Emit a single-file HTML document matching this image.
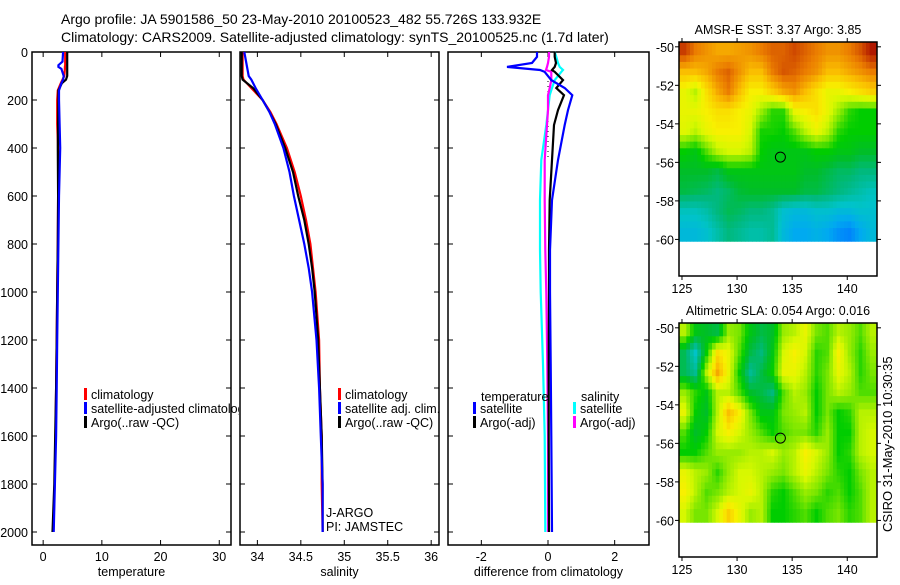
<!DOCTYPE html>
<html><head><meta charset="utf-8">
<style>
html,body{margin:0;padding:0;background:#fff;}
body{width:900px;height:580px;overflow:hidden;font-family:"Liberation Sans",sans-serif;}
svg text{font-family:"Liberation Sans",sans-serif;fill:#000;}
</style></head>
<body>
<svg id="fig" width="900" height="580" viewBox="0 0 900 580" xmlns="http://www.w3.org/2000/svg">
<defs><clipPath id="clipP1"><rect x="32" y="52" width="207" height="493"/></clipPath></defs>
<text x="61" y="24" font-size="14">Argo profile: JA 5901586_50 23-May-2010 20100523_482 55.726S 133.932E</text>
<text x="61" y="42" font-size="14">Climatology: CARS2009. Satellite-adjusted climatology: synTS_20100525.nc (1.7d later)</text>
<text transform="translate(892,532) rotate(-90)" font-size="13">CSIRO 31-May-2010 10:30:35</text>
</svg>
<script>
// ---------- data ----------
const depthTicks=[0,200,400,600,800,1000,1200,1400,1600,1800,2000];
const tempTicks=[0,10,20,30];
const salTicks=["34","34.5","35","35.5","36"];
const diffTicks=[-2,0,2];
const lonTicks=[125,130,135,140];
const latTicks=[-50,-52,-54,-56,-58,-60];

const tDepth=[0,40,55,62,70,100,115,130,160,200,300,400,600,800,1000,1200,1400,1600,1800,2000];
const tClim=[3.75,3.75,3.75,3.7,3.7,3.6,3.3,3.0,2.5,2.4,2.4,2.55,2.55,2.5,2.4,2.3,2.2,2.1,1.95,1.75];
const tSat=[3.4,3.3,2.6,2.6,3.1,3.5,3.4,3.1,2.7,2.7,2.8,2.9,2.7,2.6,2.5,2.4,2.3,2.2,2.0,1.8];
const tArgo=[4.1,4.1,4.1,4.1,4.1,4.1,3.9,3.2,2.6,2.6,2.55,2.5,2.55,2.5,2.4,2.3,2.2,2.05,1.9,1.6];

const sDepth=[0,100,115,150,200,250,300,400,500,600,700,800,900,1000,1200,1400,1600,1800,2000];
const sClim=[33.83,33.83,33.84,33.93,34.06,34.15,34.22,34.34,34.43,34.50,34.56,34.61,34.64,34.67,34.71,34.72,34.74,34.74,34.75];
const sSat=[33.85,33.9,33.93,33.98,34.06,34.14,34.2,34.3,34.37,34.42,34.48,34.54,34.59,34.63,34.68,34.71,34.73,34.75,34.75];
const sArgo=[33.82,33.82,33.83,33.95,34.06,34.14,34.21,34.32,34.41,34.47,34.54,34.59,34.63,34.66,34.70,34.72,34.74,34.75,34.75];

const dDepth=[0,20,46,62,75,83,117,150,180,242,304,450,617,825,1000,1300,1600,2000];
const dTempSat=[-0.33,-0.33,-0.48,-1.23,-0.24,-0.1,0.1,0.5,0.73,0.6,0.5,0.3,0.12,0.06,0.06,0.08,0.1,0.12];
const dTempArgo=[0.2,0.2,0.24,0.2,0.12,0.2,0.45,0.25,0.48,0.3,0.18,0.12,0.05,0.03,0.03,0.02,0.02,0.03];
const dSalSat=[0.2,0.25,0.3,0.35,0.45,0.4,0.2,0.12,0.05,0,-0.05,-0.2,-0.24,-0.24,-0.22,-0.15,-0.1,-0.08];
const dSalArgo=[0.03,0.03,0.0,-0.03,-0.06,0.1,0.1,0.05,0,0,-0.03,-0.1,-0.1,-0.08,-0.05,-0.02,0,0];

const sstGrid=[
[0.95,0.9,0.88,0.86,0.86,0.87,0.88,0.9,0.92,0.92,0.94,0.92,0.9,0.88,0.88,0.9,0.93,0.98],
[0.84,0.84,0.86,0.9,0.92,0.88,0.84,0.84,0.9,0.93,0.92,0.9,0.88,0.84,0.84,0.86,0.88,0.9],
[0.76,0.72,0.8,0.86,0.9,0.84,0.78,0.78,0.82,0.86,0.88,0.84,0.8,0.76,0.76,0.78,0.8,0.82],
[0.76,0.76,0.78,0.8,0.8,0.78,0.76,0.7,0.64,0.64,0.76,0.78,0.8,0.76,0.7,0.64,0.62,0.62],
[0.75,0.72,0.76,0.78,0.78,0.78,0.74,0.63,0.63,0.62,0.66,0.72,0.76,0.72,0.64,0.62,0.62,0.62],
[0.62,0.6,0.66,0.72,0.74,0.74,0.72,0.62,0.6,0.6,0.6,0.6,0.62,0.62,0.6,0.6,0.58,0.58],
[0.58,0.58,0.58,0.56,0.6,0.6,0.6,0.6,0.6,0.6,0.6,0.58,0.58,0.56,0.54,0.54,0.52,0.52],
[0.56,0.55,0.54,0.52,0.54,0.57,0.58,0.58,0.58,0.58,0.58,0.56,0.56,0.54,0.52,0.5,0.48,0.46],
[0.46,0.46,0.48,0.52,0.55,0.54,0.52,0.52,0.5,0.44,0.42,0.42,0.44,0.44,0.42,0.42,0.44,0.44],
[0.42,0.42,0.44,0.48,0.52,0.5,0.48,0.48,0.5,0.42,0.38,0.38,0.4,0.38,0.34,0.32,0.38,0.42]];
const slaGrid=[
[0.72,0.6,0.58,0.56,0.7,0.68,0.6,0.56,0.58,0.7,0.72,0.76,0.68,0.66,0.72,0.7,0.66,0.72],
[0.55,0.45,0.62,0.8,0.76,0.66,0.56,0.52,0.6,0.74,0.78,0.74,0.64,0.66,0.78,0.7,0.64,0.7],
[0.55,0.5,0.72,0.86,0.76,0.62,0.5,0.56,0.62,0.76,0.76,0.72,0.64,0.68,0.76,0.72,0.64,0.68],
[0.7,0.64,0.6,0.72,0.72,0.66,0.58,0.56,0.52,0.66,0.72,0.7,0.62,0.68,0.72,0.7,0.66,0.66],
[0.76,0.62,0.58,0.72,0.84,0.78,0.68,0.6,0.6,0.68,0.7,0.72,0.62,0.68,0.62,0.64,0.72,0.72],
[0.66,0.58,0.62,0.74,0.78,0.74,0.7,0.66,0.62,0.66,0.68,0.68,0.64,0.7,0.62,0.62,0.72,0.74],
[0.62,0.62,0.66,0.7,0.7,0.7,0.72,0.72,0.74,0.7,0.72,0.78,0.74,0.7,0.62,0.64,0.72,0.74],
[0.76,0.72,0.7,0.64,0.7,0.74,0.74,0.72,0.7,0.68,0.72,0.76,0.72,0.68,0.64,0.62,0.68,0.72],
[0.78,0.72,0.66,0.68,0.72,0.74,0.76,0.72,0.64,0.62,0.66,0.7,0.68,0.64,0.66,0.62,0.66,0.72],
[0.74,0.68,0.68,0.74,0.82,0.76,0.7,0.72,0.62,0.62,0.64,0.66,0.62,0.66,0.68,0.64,0.66,0.72]];
const argoLon=133.932, argoLat=-55.726;

// ---------- helpers ----------
const NS="http://www.w3.org/2000/svg";
const svg=document.getElementById('fig');
function mk(tag,attrs,parent){const e=document.createElementNS(NS,tag);for(const k in attrs)e.setAttribute(k,attrs[k]);(parent||svg).appendChild(e);return e;}
function txt(x,y,s,size,anchor,parent){const t=mk('text',{x:x,y:y,'font-size':size,'text-anchor':anchor||'start'},parent);t.textContent=s;return t;}

const yTop=52,yBot=545;
const yD=d=>52+d*0.24;

function panel(name,x0,x1,xmin,xmax,ticks,label,showY){
  const g=mk('g',{});
  
  
  const sx=v=>x0+(v-xmin)/(xmax-xmin)*(x1-x0);
  const r=mk('rect',{x:x0,y:yTop,width:x1-x0,height:yBot-yTop,fill:'none',stroke:'#000','stroke-width':1.5},g);
  
  
  ticks.forEach(t=>{const v=parseFloat(t),x=sx(v);
    mk('line',{x1:x,x2:x,y1:yBot,y2:yBot-5,stroke:'#000'},g);
    mk('line',{x1:x,x2:x,y1:yTop,y2:yTop+5,stroke:'#000'},g);
    const tl=txt(x,561,String(t),12.5,'middle',g);
    
    
  });
  depthTicks.forEach(d=>{const y=yD(d);
    mk('line',{x1:x0,x2:x0+5,y1:y,y2:y,stroke:'#000'},g);
    mk('line',{x1:x1,x2:x1-5,y1:y,y2:y,stroke:'#000'},g);
    if(showY){const tl=txt(28,y+5,String(d),12.5,'end',g);
      
      }
  });
  const xl=txt((x0+x1)/2,576,label,12.5,'middle',g);
  
  
  return {g,sx};
}
function line(p,depths,vals,color,name){
  const pts=depths.map((d,i)=>p.sx(vals[i]).toFixed(1)+','+yD(d).toFixed(1)).join(' ');
  const l=mk('polyline',{points:pts,fill:'none',stroke:color,'stroke-width':2.2},p.g);
  
  
}
function legend(g,x,y,color,label,name){
  const r=mk('rect',{x:x,y:y-10,width:3,height:12,fill:color},g);
  
  
  const t=txt(x+7,y+1,label,12.5,'start',g);
  
  
}

// panel 1
const p1=panel('temperature-panel',32,231,-1.9,32,tempTicks,'temperature',true);
line(p1,tDepth,tClim,'#f00','temp-climatology-line');
line(p1,tDepth,tArgo,'#000','temp-argo-line');
line(p1,tDepth,tSat,'#00f','temp-satellite-line');
const lg1=mk('g',{'clip-path':'url(#clipP1)'},p1.g);


legend(lg1,84,398,'#f00','climatology','legend-climatology');
legend(lg1,84,412,'#00f','satellite-adjusted climatology','legend-satellite-adjusted');
legend(lg1,84,426,'#000','Argo(..raw -QC)','legend-argo');

// panel 2
const p2=panel('salinity-panel',240,439,33.8,36.09,salTicks,'salinity',false);
line(p2,sDepth,sClim,'#f00','sal-climatology-line');
line(p2,sDepth,sArgo,'#000','sal-argo-line');
line(p2,sDepth,sSat,'#00f','sal-satellite-line');
legend(p2.g,338,398,'#f00','climatology','legend-climatology');
legend(p2.g,338,412,'#00f','satellite adj. clim.','legend-satellite-adj');
legend(p2.g,338,426,'#000','Argo(..raw -QC)','legend-argo');
const ja=txt(326,517,'J-ARGO',12.5,'start',p2.g);


const pi=txt(326,531,'PI: JAMSTEC',12.5,'start',p2.g);



// panel 3
const p3=panel('difference-panel',448,649,-3,3.03,diffTicks,'difference from climatology',false);
const zl=mk('line',{x1:p3.sx(0),x2:p3.sx(0),y1:yD(100),y2:yD(450),stroke:'#000','stroke-dasharray':'1,4'},p3.g);


line(p3,dDepth,dSalSat,'#0ff','sal-satellite-diff-line');
line(p3,dDepth,dSalArgo,'#f0f','sal-argo-diff-line');
line(p3,dDepth,dTempArgo,'#000','temp-argo-diff-line');
line(p3,dDepth,dTempSat,'#00f','temp-satellite-diff-line');
const lt=txt(481,401,'temperature',12.5,'start',p3.g);


const ls=txt(581,401,'salinity',12.5,'start',p3.g);


legend(p3.g,473,412,'#00f','satellite','legend-temp-satellite');
legend(p3.g,473,426,'#000','Argo(-adj)','legend-temp-argo');
legend(p3.g,573,412,'#0ff','satellite','legend-sal-satellite');
legend(p3.g,573,426,'#f0f','Argo(-adj)','legend-sal-argo');

// ---------- maps ----------
const stops=[[0.30,[0,120,255]],[0.38,[0,170,240]],[0.45,[0,195,200]],[0.52,[0,185,125]],[0.58,[0,190,40]],[0.62,[0,205,0]],[0.68,[120,230,0]],[0.74,[215,248,0]],[0.78,[248,240,0]],[0.84,[250,190,0]],[0.90,[235,125,0]],[0.95,[200,60,0]],[1.0,[160,0,0]]];
function cmap(v){
  if(v<=stops[0][0])return stops[0][1];
  for(let i=1;i<stops.length;i++){if(v<=stops[i][0]){const a=stops[i-1],b=stops[i],f=(v-a[0])/(b[0]-a[0]);return a[1].map((c,k)=>Math.round(c+(b[1][k]-c)*f));}}
  return stops[stops.length-1][1];
}
function map(name,grid,top,bot,title){
  const g=mk('g',{});
  
  
  const x0=679,x1=877,lonMin=124.73,lonMax=142.7,latTop=-49.75,latBot=-61.9,dataBot=-60.1;
  const sx=l=>x0+(l-lonMin)/(lonMax-lonMin)*(x1-x0);
  const sy=l=>top+(latTop-l)/(latTop-latBot)*(bot-top);
  const rows=grid.length,cols=grid[0].length,sub=3;
  const cw=(lonMax-lonMin)/cols, ch=(latTop-dataBot)/rows;
  for(let i=0;i<rows*sub;i++)for(let j=0;j<cols*sub;j++){
    const fr=Math.min(rows-1,Math.max(0,(i+0.5)/sub-0.5)), fc=Math.min(cols-1,Math.max(0,(j+0.5)/sub-0.5));
    const r0=Math.floor(fr),c0=Math.floor(fc),r1=Math.min(rows-1,r0+1),c1=Math.min(cols-1,c0+1),a=fr-r0,b=fc-c0;
    const v=(grid[r0][c0]*(1-a)*(1-b)+grid[r0][c1]*(1-a)*b+grid[r1][c0]*a*(1-b)+grid[r1][c1]*a*b);
    const la=latTop-i*ch/sub, lo=lonMin+j*cw/sub;
    const xA=sx(lo),xB=sx(lo+cw/sub),yA=sy(la),yB=sy(la-ch/sub);
    const c=cmap(v);
    const cell=mk('rect',{x:xA.toFixed(2),y:yA.toFixed(2),width:(xB-xA+0.4).toFixed(2),height:(yB-yA+0.4).toFixed(2),fill:`rgb(${c[0]},${c[1]},${c[2]})`},g);
    
    
  }
  const fr=mk('rect',{x:x0,y:top,width:x1-x0,height:bot-top,fill:'none',stroke:'#000','stroke-width':1.5},g);
  
  
  lonTicks.forEach(l=>{const x=sx(l);
    mk('line',{x1:x,x2:x,y1:bot,y2:bot+4,stroke:'#000'},g);
    mk('line',{x1:x,x2:x,y1:top,y2:top-4,stroke:'#000'},g);
    const t=txt(x,bot+17,String(l),12.5,'middle',g);
    
    });
  latTicks.forEach(l=>{const y=sy(l);
    mk('line',{x1:x0,x2:x0-4,y1:y,y2:y,stroke:'#000'},g);
    mk('line',{x1:x1,x2:x1+4,y1:y,y2:y,stroke:'#000'},g);
    const t=txt(x0-5,y+5,String(l),12.5,'end',g);
    
    });
  const c=mk('circle',{cx:sx(argoLon),cy:sy(argoLat),r:5,fill:'none',stroke:'#000','stroke-width':1},g);
  
  
  const tt=txt((x0+x1)/2,top-8,title,12.5,'middle',g);
  
  
}
map('sst-map',sstGrid,42,276,'AMSR-E SST: 3.37 Argo: 3.85');
map('sla-map',slaGrid,323,557,'Altimetric SLA: 0.054 Argo: 0.016');
</script>
</body></html>
